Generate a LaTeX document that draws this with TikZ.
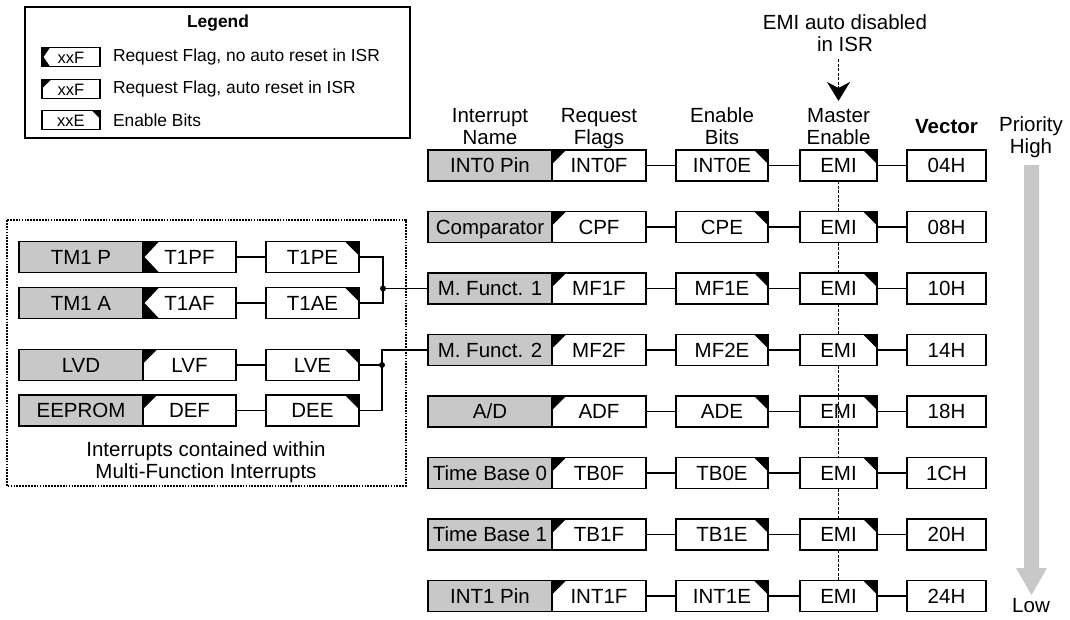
\documentclass[tikz,border=0pt]{standalone}
\usepackage{fontspec}
\setmainfont{Liberation Sans}
\usetikzlibrary{arrows.meta,calc}
\definecolor{boxgray}{RGB}{200,200,200}
\begin{document}
\begin{tikzpicture}[x=1pt,y=-1pt,
  every node/.style={inner sep=0pt,outer sep=0pt,font=\fontsize{20.5}{22}\selectfont},
  box/.style={draw,line width=1.1pt,fill=white,minimum height=31pt,text height=14.6pt,text depth=0pt},
  namebox/.style={box,fill=boxgray,minimum width=124pt},
  flagA/.style={box,path picture={\fill[black] (path picture bounding box.north west) -- ++(#1,0) -- ++(-#1,-#1) -- cycle;}},
  flagA/.default=14pt,
  flagB/.style={box,path picture={\fill[black] (path picture bounding box.north west) -- ++(#1,0) -- ([xshift=1.5pt]path picture bounding box.west) -- ([xshift=#1]path picture bounding box.south west) -- (path picture bounding box.south west) -- cycle;}},
  flagB/.default=16pt,
  enbox/.style={box,path picture={\fill[black] (path picture bounding box.north east) -- ++(-#1,0) -- ++(#1,-#1) -- cycle;}},
  enbox/.default=14pt,
  vecbox/.style={box},
  conn/.style={line width=1.1pt},
  emiline/.style={line width=1.9pt,dash pattern=on 3pt off 1.5pt},
  dotbox/.style={line width=1.9pt,dash pattern=on 1.7pt off 1.2pt},
  hdr/.style={align=center,text height=36.6pt,text depth=0pt},
  lgtext/.style={font=\fontsize{17.4}{20}\selectfont},
  lgbox/.style={minimum width=58pt,minimum height=19pt,text height=12pt,text depth=0pt,font=\fontsize{16.5}{18}\selectfont},
]
\useasboundingbox (0,0) rectangle (1070,619);

% ---------- Legend ----------
\draw[line width=1.1pt] (25,7) rectangle (410,138);
\node[font=\fontsize{17.4}{20}\selectfont\bfseries] (lgtitle) at (218,23) {Legend};
\node[flagB=8pt,lgbox] (lg1) at (71,57) {xxF};
\node[lgtext,anchor=west] (lg1t) at (113,57) {Request Flag, no auto reset in ISR};
\node[flagA=9pt,lgbox] (lg2) at (71,89) {xxF};
\node[lgtext,anchor=west] (lg2t) at (113,89) {Request Flag, auto reset in ISR};
\node[enbox=8pt,lgbox] (lg3) at (71,120) {xxE};
\node[lgtext,anchor=west] (lg3t) at (113,120) {Enable Bits};

% ---------- Headers ----------
\node[hdr] (hname) at (490,126) {Interrupt\\Name};
\node[hdr] (hflag) at (599,126) {Request\\Flags};
\node[hdr] (hen) at (722,126) {Enable\\Bits};
\node[hdr] (hmas) at (838.5,126) {Master\\Enable};
\node (hvec) at (946.5,127) {\bfseries Vector};
\node (prio) at (1031,126) {Priority};
\node (high) at (1031,148) {High};
\node (low) at (1031,606) {Low};

% ---------- Main rows ----------
\foreach \i/\nm/\fl/\en/\vc in {0/INT0 Pin/INT0F/INT0E/04H,1/Comparator/CPF/CPE/08H,2/M. Funct. 1/MF1F/MF1E/10H,3/M. Funct. 2/MF2F/MF2E/14H,4/{A/D}/ADF/ADE/18H,5/Time Base 0/TB0F/TB0E/1CH,6/Time Base 1/TB1F/TB1E/20H,7/INT1 Pin/INT1F/INT1E/24H}{
  \pgfmathsetmacro{\yy}{165.5+61.5*\i}
  \node[namebox] (n\i) at (490,\yy) {\nm};
  \node[flagA,minimum width=94pt] (f\i) at (599,\yy) {\fl};
  \node[enbox,minimum width=92pt] (e\i) at (722,\yy) {\en};
  \node[enbox,minimum width=77pt] (m\i) at (838.5,\yy) {EMI};
  \node[vecbox,minimum width=79pt] (v\i) at (946.5,\yy) {\vc};
  \draw[conn] (f\i) -- (e\i);
  \draw[conn] (e\i) -- (m\i);
  \draw[conn] (m\i) -- (v\i);
}

% ---------- EMI dashed line ----------
\node[align=center] (emitxt) at (845,33) {EMI auto disabled\\in ISR};
\coordinate (emistart) at (838.5,59);
\coordinate (emitip) at (838.5,101);
\draw[emiline,-{Stealth[length=19pt,width=23pt,inset=6pt]}] (emistart) -- (emitip);
\draw[emiline] (m0.south) -- (m1.north);
\draw[emiline] (m1.south) -- (m2.north);
\draw[emiline] (m2.south) -- (m3.north);
\draw[emiline] (m3.south) -- (m5.north);
\draw[emiline] (m5.south) -- (m6.north);
\draw[emiline] (m6.south) -- (m7.north);

% ---------- Priority arrow ----------
\fill[boxgray] (1024,165) -- (1039,165) -- (1039,568) -- (1047,568) -- (1031.5,595) -- (1016,568) -- (1024,568) -- cycle;

% ---------- Multi-function box ----------
\draw[dotbox] (7,220) rectangle (406,486);
\node[namebox] (la) at (81,257) {TM1 P};
\node[flagB,minimum width=93pt] (lfa) at (189.5,257) {T1PF};
\node[enbox,minimum width=93pt] (lea) at (312.5,257) {T1PE};
\node[namebox] (lb) at (81,303) {TM1 A};
\node[flagB,minimum width=93pt] (lfb) at (189.5,303) {T1AF};
\node[enbox,minimum width=93pt] (leb) at (312.5,303) {T1AE};
\node[namebox] (lc) at (81,365) {LVD};
\node[flagA,minimum width=93pt] (lfc) at (189.5,365) {LVF};
\node[enbox,minimum width=93pt] (lec) at (312.5,365) {LVE};
\node[namebox] (ld) at (81,410.5) {EEPROM};
\node[flagA,minimum width=93pt] (lfd) at (189.5,410.5) {DEF};
\node[enbox,minimum width=93pt] (led) at (312.5,410.5) {DEE};
\draw[conn] (lfa) -- (lea);
\draw[conn] (lfb) -- (leb);
\draw[conn] (lfc) -- (lec);
\draw[conn] (lfd) -- (led);

\path (n2.west) ++(-45pt,0) coordinate (j1);
\draw[conn] (lea.east) -- (lea.east -| j1) -- (leb.east -| j1) -- (leb.east);
\draw[conn] (j1) -- (n2.west);
\fill (j1) circle (3pt);

\path (n3.west) ++(-46pt,0) coordinate (j2);
\draw[conn] (n3.west) -- (j2) -- (j2 |- led.east) -- (led.east);
\draw[conn] (lec.east) -- (lec.east -| j2);
\fill (lec.east -| j2) circle (3pt);

\node[align=center] (mfnote) at (206,462) {Interrupts contained within\\Multi-Function Interrupts};
\end{tikzpicture}
\end{document}
